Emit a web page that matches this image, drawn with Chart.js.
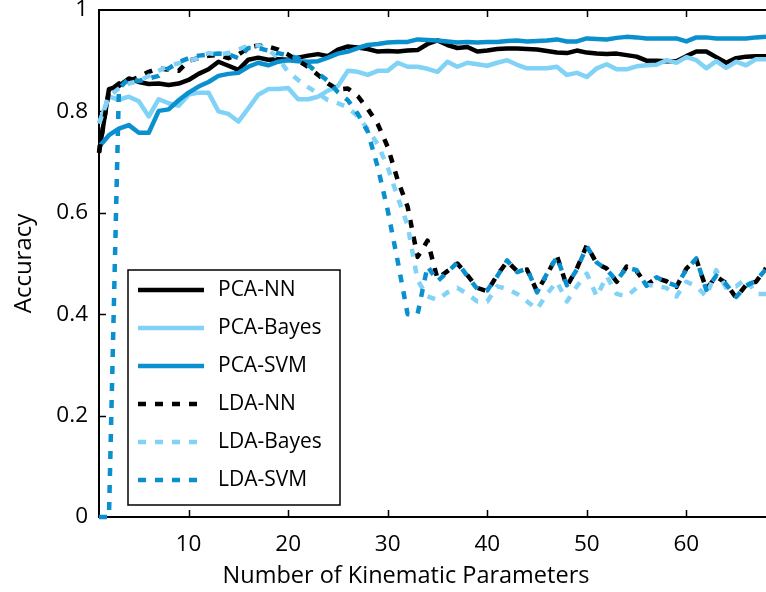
<!DOCTYPE html>
<html>
<head>
<meta charset="utf-8">
<script src="https://cdn.jsdelivr.net/npm/chart.js@4/dist/chart.umd.min.js"></script>
<style>
  html, body { margin: 0; padding: 0; background: #fff; }
  #wrap { width: 766px; height: 592px; }
</style>
</head>
<body>
<div id="wrap"><canvas id="acc" width="766" height="592"></canvas></div>
<script>
// number of kinematic parameters used (x axis)
const paramCounts = [
  1, 2, 3, 4, 5, 6, 7, 8, 9, 10, 11, 12, 13, 14, 15, 16, 17,
  18, 19, 20, 21, 22, 23, 24, 25, 26, 27, 28, 29, 30, 31, 32, 33, 34,
  35, 36, 37, 38, 39, 40, 41, 42, 43, 44, 45, 46, 47, 48, 49, 50, 51,
  52, 53, 54, 55, 56, 57, 58, 59, 60, 61, 62, 63, 64, 65, 66, 67, 68
];

const pcaNN = [
  0.718, 0.844, 0.850, 0.865, 0.858, 0.854, 0.855, 0.852, 0.855, 0.862,
  0.874, 0.883, 0.898, 0.890, 0.882, 0.902, 0.906, 0.902, 0.903, 0.902,
  0.906, 0.910, 0.913, 0.909, 0.922, 0.928, 0.926, 0.923, 0.918, 0.919,
  0.918, 0.920, 0.921, 0.933, 0.940, 0.931, 0.925, 0.927, 0.918, 0.920,
  0.923, 0.924, 0.924, 0.923, 0.922, 0.919, 0.916, 0.915, 0.920, 0.916,
  0.914, 0.913, 0.914, 0.911, 0.908, 0.900, 0.900, 0.899, 0.899, 0.909,
  0.918, 0.918, 0.907, 0.896, 0.905, 0.908, 0.909, 0.909
];

const pcaBayes = [
  0.776, 0.829, 0.823, 0.829, 0.820, 0.790, 0.824, 0.816, 0.811, 0.833,
  0.837, 0.837, 0.800, 0.795, 0.780, 0.806, 0.833, 0.844, 0.844, 0.846,
  0.824, 0.824, 0.829, 0.841, 0.850, 0.880, 0.878, 0.872, 0.880, 0.880,
  0.896, 0.888, 0.888, 0.884, 0.878, 0.898, 0.888, 0.896, 0.893, 0.890,
  0.896, 0.901, 0.892, 0.885, 0.885, 0.885, 0.888, 0.872, 0.876, 0.868,
  0.885, 0.893, 0.883, 0.883, 0.889, 0.891, 0.892, 0.901, 0.896, 0.907,
  0.901, 0.885, 0.899, 0.886, 0.898, 0.891, 0.903, 0.903
];

const pcaSVM = [
  0.730, 0.753, 0.766, 0.773, 0.758, 0.758, 0.801, 0.804, 0.822, 0.837,
  0.849, 0.858, 0.870, 0.874, 0.876, 0.888, 0.896, 0.891, 0.898, 0.901,
  0.899, 0.898, 0.899, 0.906, 0.914, 0.918, 0.925, 0.931, 0.933, 0.936,
  0.937, 0.937, 0.942, 0.941, 0.940, 0.938, 0.936, 0.937, 0.936, 0.937,
  0.937, 0.939, 0.940, 0.938, 0.939, 0.940, 0.942, 0.938, 0.938, 0.944,
  0.943, 0.942, 0.945, 0.947, 0.946, 0.944, 0.944, 0.944, 0.944, 0.938,
  0.946, 0.946, 0.944, 0.944, 0.944, 0.944, 0.946, 0.947
];

const ldaNN = [
  0.720, 0.840, 0.855, 0.860, 0.868, 0.878, 0.885, 0.882, 0.880, 0.900,
  0.905, 0.910, 0.911, 0.905, 0.912, 0.926, 0.930, 0.928, 0.922, 0.912,
  0.900, 0.888, 0.872, 0.855, 0.843, 0.845, 0.830, 0.805, 0.775, 0.730,
  0.665, 0.612, 0.513, 0.545, 0.470, 0.485, 0.500, 0.477, 0.452, 0.445,
  0.477, 0.504, 0.485, 0.488, 0.445, 0.478, 0.515, 0.455, 0.490, 0.536,
  0.500, 0.490, 0.464, 0.494, 0.485, 0.458, 0.471, 0.465, 0.454, 0.490,
  0.508, 0.450, 0.474, 0.461, 0.432, 0.458, 0.464, 0.491
];

const ldaBayes = [
  0.776, 0.830, 0.845, 0.855, 0.860, 0.870, 0.880, 0.890, 0.895, 0.900,
  0.905, 0.915, 0.912, 0.915, 0.922, 0.930, 0.930, 0.922, 0.905, 0.878,
  0.862, 0.848, 0.835, 0.822, 0.816, 0.808, 0.790, 0.765, 0.735, 0.690,
  0.631, 0.575, 0.467, 0.435, 0.428, 0.443, 0.452, 0.440, 0.425, 0.425,
  0.455, 0.450, 0.440, 0.425, 0.410, 0.440, 0.464, 0.425, 0.455, 0.480,
  0.435, 0.475, 0.440, 0.435, 0.452, 0.458, 0.456, 0.452, 0.435, 0.464,
  0.455, 0.435, 0.487, 0.452, 0.455, 0.470, 0.440, 0.440
];

const ldaSVM = [
  0.000, 0.000, 0.845, 0.865, 0.860, 0.865, 0.870, 0.885, 0.897, 0.905,
  0.910, 0.912, 0.914, 0.913, 0.905, 0.925, 0.925, 0.920, 0.915, 0.910,
  0.905, 0.892, 0.875, 0.860, 0.838, 0.822, 0.795, 0.760, 0.690, 0.605,
  0.505, 0.400, 0.400, 0.495, 0.465, 0.483, 0.502, 0.475, 0.450, 0.447,
  0.475, 0.506, 0.483, 0.490, 0.443, 0.480, 0.513, 0.457, 0.488, 0.534,
  0.502, 0.488, 0.466, 0.492, 0.487, 0.456, 0.473, 0.463, 0.456, 0.488,
  0.510, 0.448, 0.476, 0.459, 0.434, 0.456, 0.466, 0.489
];

const xTickValues = [10, 20, 30, 40, 50, 60];
const yTickValues = [0, 0.2, 0.4, 0.6, 0.8, 1];

const FONT = "'Open Sans', Lato, sans-serif";
const BLACK = "#000000";
const LIGHT = "#80d2f6";
const MID = "#0a90cf";
const DASH = [8, 9];

const series = [
  { label: "PCA-NN",    values: pcaNN,    color: BLACK, dashed: false },
  { label: "PCA-Bayes", values: pcaBayes, color: LIGHT, dashed: false },
  { label: "PCA-SVM",   values: pcaSVM,   color: MID,   dashed: false },
  { label: "LDA-NN",    values: ldaNN,    color: BLACK, dashed: true },
  { label: "LDA-Bayes", values: ldaBayes, color: LIGHT, dashed: true },
  { label: "LDA-SVM",   values: ldaSVM,   color: MID,   dashed: true }
];

/** Рамка осей в стиле MATLAB: линии сверху/слева/снизу и засечки внутрь */
const axesFrame = {
  id: "axesFrame",
  beforeDatasetsDraw(chart) {
    const { ctx, chartArea: a, scales: { x, y } } = chart;
    ctx.save();
    ctx.strokeStyle = "#000";
    ctx.lineWidth = 2;
    ctx.beginPath();
    ctx.moveTo(a.left, a.top);
    ctx.lineTo(a.right + 2, a.top);
    ctx.moveTo(a.left, a.top - 1);
    ctx.lineTo(a.left, a.bottom + 1);
    ctx.moveTo(a.left - 1, a.bottom);
    ctx.lineTo(a.right + 2, a.bottom);
    ctx.stroke();

    ctx.lineWidth = 1.5;
    ctx.beginPath();
    xTickValues.forEach(v => {
      const px = Math.round(x.getPixelForValue(v)) + 0.5;
      ctx.moveTo(px, a.bottom);
      ctx.lineTo(px, a.bottom - 7);
      ctx.moveTo(px, a.top);
      ctx.lineTo(px, a.top + 7);
    });
    yTickValues.slice(1, -1).forEach(v => {
      const py = Math.round(y.getPixelForValue(v)) + 0.5;
      ctx.moveTo(a.left, py);
      ctx.lineTo(a.left + 7, py);
    });
    ctx.stroke();
    ctx.restore();
  },
  afterDraw(chart) {
    // подпись оси X
    const { ctx } = chart;
    ctx.save();
    ctx.fillStyle = "#000";
    ctx.font = "23.5px " + FONT;
    ctx.textAlign = "center";
    ctx.textBaseline = "middle";
    ctx.fillText("Number of Kinematic Parameters", 406, 576);
    ctx.restore();
  }
};

/** Легенда внутри области графика */
const boxLegend = {
  id: "boxLegend",
  afterDatasetsDraw(chart) {
    const { ctx } = chart;
    const box = { x: 128, y: 270, w: 212, h: 235 };
    ctx.save();
    ctx.fillStyle = "#fff";
    ctx.fillRect(box.x, box.y, box.w, box.h);
    ctx.strokeStyle = "#000";
    ctx.lineWidth = 1.5;
    ctx.strokeRect(box.x, box.y, box.w, box.h);

    ctx.font = "21px " + FONT;
    ctx.textBaseline = "middle";
    ctx.textAlign = "left";
    chart.data.datasets.forEach((ds, i) => {
      const cy = box.y + 20 + i * 38;
      ctx.strokeStyle = ds.borderColor;
      ctx.lineWidth = ds.borderWidth;
      ctx.setLineDash(ds.borderDash || []);
      ctx.beginPath();
      ctx.moveTo(138, cy);
      ctx.lineTo(204, cy);
      ctx.stroke();
      ctx.setLineDash([]);
      ctx.fillStyle = "#000";
      ctx.fillText(ds.label, 218, cy);
    });
    ctx.restore();
  }
};

new Chart(document.getElementById("acc"), {
  type: "line",
  data: {
    labels: paramCounts,
    datasets: series.map((s, i) => ({
      label: s.label,
      data: s.values.map((v, k) => ({ x: paramCounts[k], y: v })),
      borderColor: s.color,
      borderWidth: 4.5,
      borderDash: s.dashed ? DASH : [],
      borderCapStyle: "butt",
      borderJoinStyle: "round",
      pointRadius: 0,
      tension: 0,
      fill: false,
      clip: false,
      order: series.length - i
    }))
  },
  options: {
    responsive: false,
    animation: false,
    devicePixelRatio: 1,
    layout: { padding: { top: 10, right: 0, bottom: 0, left: 0 } },
    plugins: {
      legend: { display: false },
      tooltip: { enabled: false }
    },
    scales: {
      x: {
        type: "linear",
        min: 1,
        max: 68,
        grid: { display: false, drawTicks: false },
        border: { display: false },
        afterBuildTicks: scale => { scale.ticks = xTickValues.map(v => ({ value: v })); },
        afterFit: scale => {
          scale.height = 75;
          scale.paddingLeft = 0;
          scale.paddingRight = 0;
        },
        ticks: {
          color: "#000",
          padding: 14,
          maxRotation: 0,
          font: { family: FONT, size: 22.5 },
          callback: v => String(v)
        }
      },
      y: {
        min: 0,
        max: 1,
        grid: { display: false, drawTicks: false },
        border: { display: false },
        afterBuildTicks: scale => { scale.ticks = yTickValues.map(v => ({ value: v })); },
        afterFit: scale => {
          scale.width = 99;
          scale.paddingTop = 0;
          scale.paddingBottom = 0;
        },
        title: {
          display: true,
          text: "Accuracy",
          color: "#000",
          font: { family: FONT, size: 24 },
          padding: { top: 10, bottom: 0 }
        },
        ticks: {
          color: "#000",
          padding: 11,
          font: { family: FONT, size: 22.5 },
          callback: v => String(v)
        }
      }
    }
  },
  plugins: [axesFrame, boxLegend]
});
</script>
</body>
</html>
